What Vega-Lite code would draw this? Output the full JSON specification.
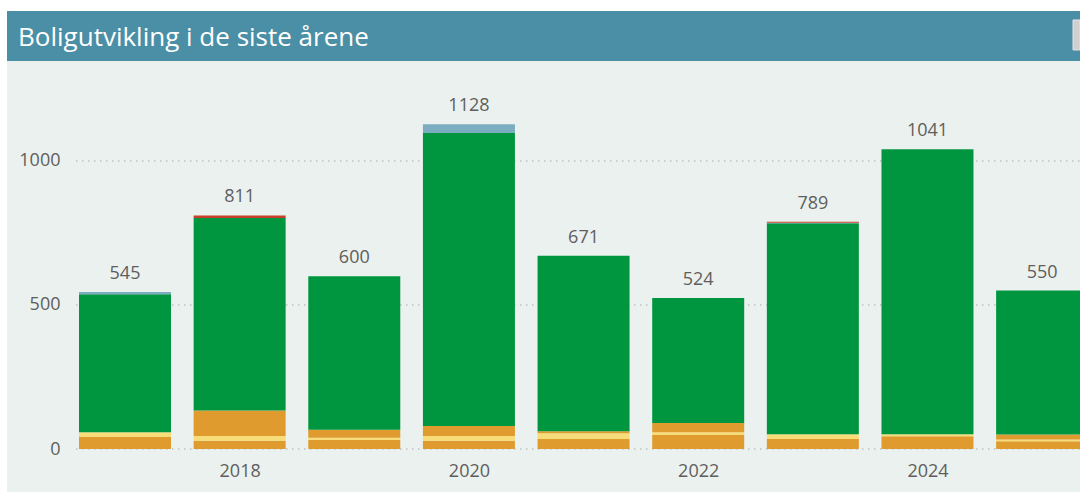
{
  "$schema": "https://vega.github.io/schema/vega-lite/v6.json",
  "autosize": {"type": "none"},
  "width": 1073,
  "height": 481,
  "padding": {"left": 7, "top": 11, "right": 0, "bottom": 0},
  "background": "#ffffff",
  "config": {"view": {"fill": "#EBF1EF", "stroke": null}, "font": "Open Sans"},
  "datasets": {
    "boliger": [
      {"year": 2017, "type": "Enebolig", "nr": 1, "value": 42},
      {"year": 2017, "type": "Tomannsbolig", "nr": 2, "value": 16},
      {"year": 2017, "type": "Boligblokk", "nr": 4, "value": 479},
      {"year": 2017, "type": "Bofellesskap", "nr": 5, "value": 8},
      {"year": 2018, "type": "Enebolig", "nr": 1, "value": 29},
      {"year": 2018, "type": "Tomannsbolig", "nr": 2, "value": 16},
      {"year": 2018, "type": "Rekkehus", "nr": 3, "value": 89},
      {"year": 2018, "type": "Boligblokk", "nr": 4, "value": 668},
      {"year": 2018, "type": "Annet", "nr": 6, "value": 9},
      {"year": 2019, "type": "Enebolig", "nr": 1, "value": 31},
      {"year": 2019, "type": "Tomannsbolig", "nr": 2, "value": 8},
      {"year": 2019, "type": "Rekkehus", "nr": 3, "value": 28},
      {"year": 2019, "type": "Boligblokk", "nr": 4, "value": 533},
      {"year": 2020, "type": "Enebolig", "nr": 1, "value": 29},
      {"year": 2020, "type": "Tomannsbolig", "nr": 2, "value": 16},
      {"year": 2020, "type": "Rekkehus", "nr": 3, "value": 35},
      {"year": 2020, "type": "Boligblokk", "nr": 4, "value": 1017},
      {"year": 2020, "type": "Bofellesskap", "nr": 5, "value": 31},
      {"year": 2021, "type": "Enebolig", "nr": 1, "value": 35},
      {"year": 2021, "type": "Tomannsbolig", "nr": 2, "value": 20},
      {"year": 2021, "type": "Rekkehus", "nr": 3, "value": 7},
      {"year": 2021, "type": "Boligblokk", "nr": 4, "value": 609},
      {"year": 2022, "type": "Enebolig", "nr": 1, "value": 49},
      {"year": 2022, "type": "Tomannsbolig", "nr": 2, "value": 9},
      {"year": 2022, "type": "Rekkehus", "nr": 3, "value": 32},
      {"year": 2022, "type": "Boligblokk", "nr": 4, "value": 434},
      {"year": 2023, "type": "Enebolig", "nr": 1, "value": 35},
      {"year": 2023, "type": "Tomannsbolig", "nr": 2, "value": 16},
      {"year": 2023, "type": "Boligblokk", "nr": 4, "value": 733},
      {"year": 2023, "type": "Bofellesskap", "nr": 5, "value": 2},
      {"year": 2023, "type": "Annet", "nr": 6, "value": 3},
      {"year": 2024, "type": "Enebolig", "nr": 1, "value": 44},
      {"year": 2024, "type": "Tomannsbolig", "nr": 2, "value": 7},
      {"year": 2024, "type": "Boligblokk", "nr": 4, "value": 990},
      {"year": 2025, "type": "Enebolig", "nr": 1, "value": 27},
      {"year": 2025, "type": "Tomannsbolig", "nr": 2, "value": 6},
      {"year": 2025, "type": "Rekkehus", "nr": 3, "value": 17},
      {"year": 2025, "type": "Boligblokk", "nr": 4, "value": 500}
    ]
  },
  "layer": [
    {
      "data": {"values": [{"t": "Boligutvikling i de siste årene"}]},
      "mark": {"type": "rect", "color": "#4A8FA6"},
      "encoding": {
        "x": {"datum": 2015.9707},
        "x2": {"datum": 2025.3304},
        "y": {"datum": 1347.2},
        "y2": {"datum": 1520.8}
      }
    },
    {
      "data": {"values": [{"t": "knapp"}]},
      "mark": {"type": "rect", "color": "#CFCFCF", "stroke": "#E4E4E4", "strokeWidth": 1},
      "encoding": {
        "x": {"datum": 2025.2693},
        "x2": {"datum": 2025.3304},
        "y": {"datum": 1385.4},
        "y2": {"datum": 1489.6}
      }
    },
    {
      "data": {"values": [{"t": "Boligutvikling i de siste årene"}]},
      "mark": {"type": "text", "align": "left", "baseline": "middle", "fontSize": 26, "color": "#ffffff", "font": "Open Sans"},
      "encoding": {
        "x": {"datum": 2016.0667},
        "y": {"datum": 1427},
        "text": {"field": "t"}
      }
    },
    {
      "data": {"values": [{"v": 0}, {"v": 500}, {"v": 1000}]},
      "mark": {"type": "rule", "color": "#A8A8A8", "strokeWidth": 1, "strokeDash": [1.5, 4.5]},
      "encoding": {
        "x": {"datum": 2016.5726},
        "x2": {"datum": 2025.3304},
        "y": {"field": "v", "type": "quantitative"}
      }
    },
    {
      "data": {"name": "boliger"},
      "mark": {"type": "bar", "size": 92, "clip": true},
      "encoding": {
        "x": {
          "field": "year",
          "type": "quantitative",
          "scale": {"domain": [2015.9707, 2025.3304], "nice": false, "zero": false, "padding": 0},
          "axis": {"values": [2018, 2020, 2022, 2024], "format": "d", "title": null, "ticks": false, "domain": false, "grid": false, "labelFontSize": 18, "labelColor": "#605E5C", "labelPadding": 2, "offset": -32, "labelFlush": false, "labelFont": "Open Sans"}
        },
        "y": {
          "field": "value",
          "type": "quantitative",
          "scale": {"domain": [-149.3, 1520.8], "nice": false, "zero": false},
          "axis": {"values": [0, 500, 1000], "format": "d", "title": null, "ticks": false, "domain": false, "grid": false, "labelFontSize": 18, "labelColor": "#605E5C", "labelPadding": 0, "offset": -53, "labelFont": "Open Sans"}
        },
        "color": {
          "field": "type",
          "type": "nominal",
          "scale": {
            "domain": ["Enebolig", "Tomannsbolig", "Rekkehus", "Boligblokk", "Bofellesskap", "Annet"],
            "range": ["#E09B2E", "#F6DD79", "#E09B2E", "#00963F", "#7AADBF", "#C8402B"]
          },
          "legend": null
        },
        "order": {"field": "nr", "type": "quantitative"}
      }
    },
    {
      "data": {"name": "boliger"},
      "mark": {"type": "text", "dy": -13, "baseline": "alphabetic", "fontSize": 18, "color": "#605E5C", "font": "Open Sans"},
      "encoding": {
        "x": {"field": "year", "type": "quantitative"},
        "y": {"aggregate": "sum", "field": "value", "type": "quantitative"},
        "text": {"aggregate": "sum", "field": "value", "type": "quantitative"}
      }
    }
  ]
}
